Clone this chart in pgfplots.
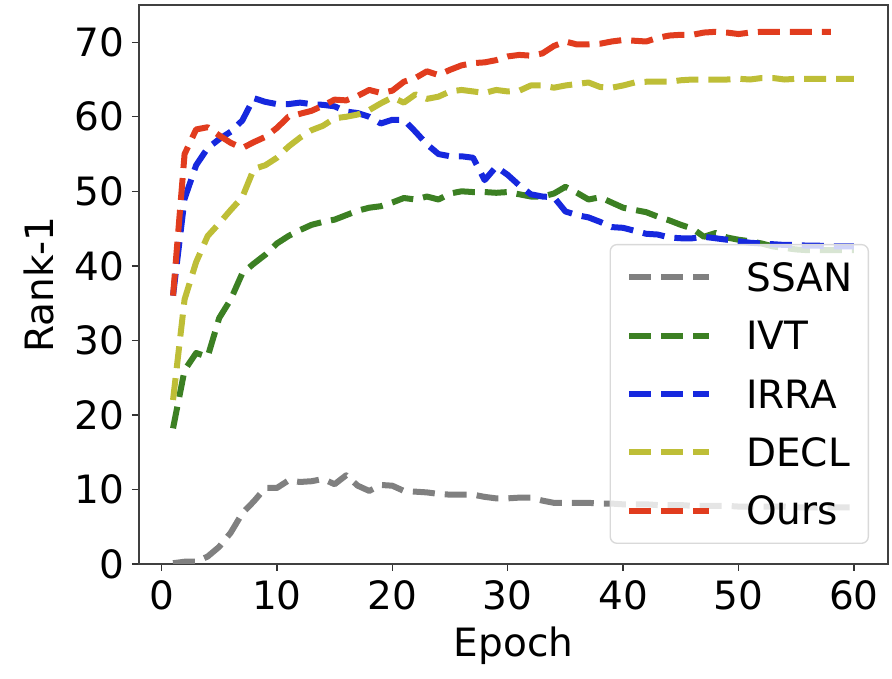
\documentclass[border=0pt]{standalone}
\usepackage{fontspec}
\setmainfont{DejaVu Sans}
\usepackage{pgfplots}
\pgfplotsset{compat=1.18}

\definecolor{cssan}{RGB}{128,128,128}
\definecolor{civt}{RGB}{60,128,35}
\definecolor{cirra}{RGB}{22,40,222}
\definecolor{cdecl}{RGB}{190,190,55}
\definecolor{cours}{RGB}{225,60,30}

\pgfplotsset{
  curve/.style={line width=1.8pt, dash pattern=on 6.6pt off 3.0pt, line join=round},
}

\begin{document}
\fontsize{11.7}{14}\selectfont
\begin{tikzpicture}
\begin{axis}[
    name=ax,
    scale only axis,
    width=224.7pt,
    height=167.7pt,
    xmin=-1.95, xmax=62.95,
    ymin=0, ymax=75,
    xtick={0,10,20,30,40,50,60},
    ytick={0,10,20,30,40,50,60,70},
    tick align=outside,
    tick pos=left,
    major tick length=2.1pt,
    every tick/.style={black!80, line width=0.4pt},
    axis line style={black!75, line width=0.6pt},
    /pgf/number format/assume math mode=true,
    yticklabel style={inner sep=0pt, xshift=-2.1pt},
    xticklabel style={inner sep=0pt, yshift=-2.7pt},
    xlabel={Epoch},
    ylabel={Rank-1},
    every axis x label/.style={at={([yshift=-27.9pt]axis description cs:0.5,0)}, anchor=base},
    every axis y label/.style={at={([xshift=-25.5pt]axis description cs:0,0.5)}, anchor=base, rotate=90},
    legend style={
        at={(1,0)}, anchor=south east, xshift=-5.7pt, yshift=6pt,
        draw=black!15, rounded corners=2pt,
        fill=white, fill opacity=0.8, text opacity=1, draw opacity=1,
        inner xsep=4.8pt, inner ysep=5.5pt,
        row sep=8.9pt,
        nodes={inner sep=0pt, text height=8.6pt, text depth=0pt},
    },
    legend cell align=left,
    legend image code/.code={\draw[#1] (0pt,0pt) -- (24pt,0pt);},
    /tikz/every odd column/.append style={column sep=10.2pt},
]

\addplot[curve, cssan] coordinates {
(1,0.1) (2,0.3) (3,0.3) (4,1.0) (5,2.3) (6,4.2) (7,6.8) (8,8.4) (9,10.2) (10,10.2)
(11,11.2) (12,11.0) (13,11.1) (14,11.4) (15,10.7) (16,11.9) (17,10.5) (18,9.8) (19,10.6) (20,10.5)
(21,9.8) (22,9.7) (23,9.6) (24,9.4) (25,9.3) (26,9.3) (27,9.3) (28,9.0) (29,8.8) (30,8.8)
(31,8.9) (32,8.9) (33,8.5) (34,8.2) (35,8.2) (36,8.2) (37,8.2) (38,8.1) (39,8.1) (40,8.0)
(41,8.0) (42,8.0) (43,7.9) (44,7.9) (45,7.9) (46,7.8) (47,7.8) (48,7.8) (49,7.8) (50,7.7)
(51,7.7) (52,7.7) (53,7.7) (54,7.7) (55,7.6) (56,7.6) (57,7.6) (58,7.6) (59,7.6) (60,7.6)
};
\addlegendentry{SSAN}

\addplot[curve, civt] coordinates {
(1,18.2) (2,26.0) (3,28.3) (4,27.8) (5,33.0) (6,35.5) (7,39.0) (8,40.3) (9,41.5) (10,43.0)
(11,44.0) (12,44.8) (13,45.5) (14,45.9) (15,46.2) (16,46.8) (17,47.4) (18,47.8) (19,48.0) (20,48.5)
(21,49.1) (22,48.9) (23,49.3) (24,48.9) (25,49.7) (26,50.0) (27,49.9) (28,49.9) (29,49.8) (30,49.9)
(31,49.6) (32,49.3) (33,49.3) (34,49.7) (35,50.6) (36,49.8) (37,48.9) (38,49.2) (39,48.5) (40,47.8)
(41,47.5) (42,47.2) (43,46.6) (44,46.1) (45,45.5) (46,45.0) (47,43.9) (48,44.4) (49,43.8) (50,43.5)
(51,43.3) (52,43.0) (53,42.6) (54,42.4) (55,42.2) (56,42.1) (57,42.1) (58,42.1) (59,42.1) (60,42.1)
};
\addlegendentry{IVT}

\addplot[curve, cirra] coordinates {
(1,36.0) (2,49.0) (3,53.5) (4,55.8) (5,57.0) (6,58.0) (7,59.5) (8,62.5) (9,62.0) (10,61.7)
(11,61.7) (12,61.9) (13,61.7) (14,61.6) (15,61.4) (16,60.7) (17,60.5) (18,60.0) (19,59.1) (20,59.6)
(21,59.6) (22,58.0) (23,56.3) (24,55.0) (25,54.7) (26,54.7) (27,54.5) (28,51.5) (29,53.3) (30,52.2)
(31,50.8) (32,49.6) (33,49.3) (34,49.2) (35,47.3) (36,46.8) (37,46.5) (38,45.9) (39,45.2) (40,45.1)
(41,44.7) (42,44.3) (43,44.2) (44,43.8) (45,43.7) (46,43.7) (47,43.9) (48,43.7) (49,43.5) (50,43.3)
(51,43.1) (52,43.0) (53,42.9) (54,42.8) (55,42.8) (56,42.7) (57,42.7) (58,42.6) (59,42.6) (60,42.6)
};
\addlegendentry{IRRA}

\addplot[curve, cdecl] coordinates {
(1,22.0) (2,35.5) (3,40.5) (4,44.0) (5,45.7) (6,47.5) (7,49.2) (8,53.0) (9,53.5) (10,54.5)
(11,56.0) (12,57.2) (13,58.2) (14,58.8) (15,59.8) (16,60.0) (17,60.3) (18,60.9) (19,61.8) (20,62.6)
(21,61.9) (22,63.0) (23,62.4) (24,62.7) (25,63.4) (26,63.6) (27,63.4) (28,63.2) (29,63.6) (30,63.4)
(31,63.5) (32,64.2) (33,64.2) (34,63.9) (35,64.2) (36,64.4) (37,64.6) (38,64.0) (39,63.9) (40,64.2)
(41,64.6) (42,64.7) (43,64.7) (44,64.7) (45,64.9) (46,65.0) (47,65.0) (48,65.0) (49,65.0) (50,65.1)
(51,65.0) (52,65.2) (53,65.2) (54,65.0) (55,65.1) (56,65.1) (57,65.1) (58,65.1) (59,65.1) (60,65.1)
};
\addlegendentry{DECL}

\addplot[curve, cours] coordinates {
(1,36.0) (2,55.0) (3,58.3) (4,58.6) (5,57.5) (6,56.5) (7,55.8) (8,56.6) (9,57.3) (10,58.5)
(11,60.0) (12,60.4) (13,60.8) (14,61.5) (15,62.3) (16,62.2) (17,62.8) (18,63.6) (19,63.2) (20,63.5)
(21,64.7) (22,65.2) (23,66.1) (24,65.6) (25,66.3) (26,66.9) (27,67.2) (28,67.3) (29,67.6) (30,68.1)
(31,68.3) (32,68.2) (33,68.5) (34,69.5) (35,70.1) (36,69.7) (37,69.7) (38,69.8) (39,70.1) (40,70.3)
(41,70.2) (42,70.1) (43,70.6) (44,70.9) (45,71.0) (46,71.0) (47,71.3) (48,71.4) (49,71.3) (50,71.1)
(51,71.3) (52,71.4) (53,71.4) (54,71.4) (55,71.4) (56,71.4) (57,71.4) (58,71.4)
};
\addlegendentry{Ours}

\end{axis}
\path ([shift={(-41.7pt,-30.9pt)}]ax.south west) rectangle ([shift={(1.2pt,1.5pt)}]ax.north east);
\end{tikzpicture}
\end{document}
